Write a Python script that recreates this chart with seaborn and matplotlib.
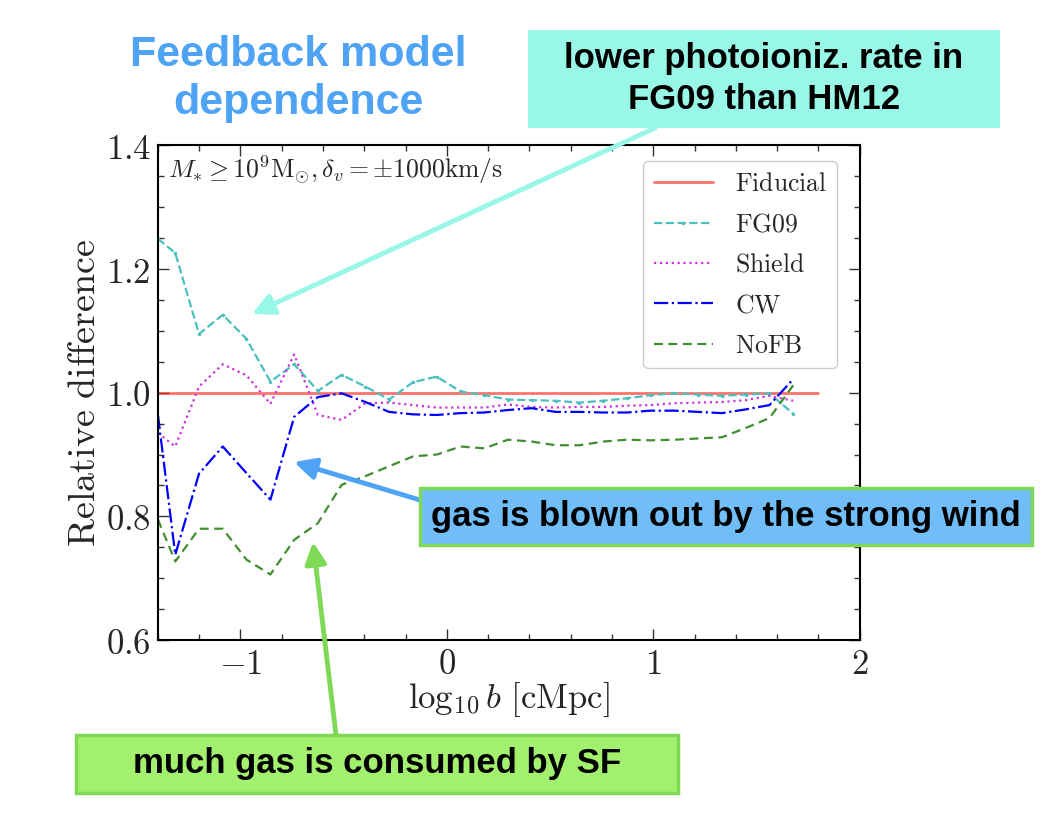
import matplotlib
matplotlib.use('Agg')
import matplotlib.pyplot as plt
import seaborn as sns
from matplotlib.patches import Rectangle, FancyArrowPatch
from matplotlib.ticker import MultipleLocator, FuncFormatter

# log10 impact parameter of the bins
log_b = [-1.400, -1.316, -1.201, -1.086, -0.971, -0.855, -0.740, -0.625, -0.510, -0.395,
         -0.280, -0.164, -0.049, 0.066, 0.181, 0.296, 0.411, 0.527, 0.642, 0.757,
         0.872, 0.987, 1.102, 1.218, 1.333, 1.448, 1.563, 1.678]

fg09 = [1.249, 1.226, 1.095, 1.126, 1.087, 1.018, 1.046, 1.003, 1.029, 1.010,
        0.989, 1.017, 1.026, 1.002, 0.996, 0.989, 0.988, 0.987, 0.984, 0.987,
        0.991, 0.996, 0.999, 0.997, 0.995, 0.997, 0.999, 0.966]
shield = [0.935, 0.913, 1.010, 1.046, 1.028, 0.982, 1.062, 0.964, 0.956, 0.983,
          0.984, 0.980, 0.976, 0.976, 0.976, 0.981, 0.977, 0.976, 0.977, 0.977,
          0.979, 0.980, 0.983, 0.984, 0.985, 0.988, 0.995, 0.987]
cw = [0.964, 0.738, 0.869, 0.913, 0.870, 0.827, 0.961, 0.993, 0.999, 0.985,
      0.969, 0.965, 0.964, 0.967, 0.968, 0.972, 0.975, 0.969, 0.969, 0.968,
      0.968, 0.971, 0.971, 0.969, 0.967, 0.973, 0.980, 1.022]
nofb = [0.795, 0.727, 0.780, 0.780, 0.730, 0.706, 0.762, 0.789, 0.851, 0.865,
        0.881, 0.897, 0.900, 0.913, 0.910, 0.924, 0.921, 0.915, 0.915, 0.921,
        0.924, 0.923, 0.924, 0.926, 0.928, 0.943, 0.959, 1.012]

fid_x = [-1.40, 1.80]
fid_y = [1.0, 1.0]

sns.set_theme(style='ticks')
plt.rcParams['mathtext.fontset'] = 'cm'
plt.rcParams['font.family'] = ['DejaVu Serif']

W, H = 1060, 818
fig = plt.figure(figsize=(W / 100, H / 100), dpi=100)
ax = fig.add_axes([0.149, 0.2176, 0.662, 0.6046])

sns.lineplot(x=fid_x, y=fid_y, ax=ax, color='#ff2a1a', alpha=0.65, lw=2,
             label=r'$\mathrm{Fiducial}$')
sns.lineplot(x=log_b, y=fg09, ax=ax, color='#4cbfbf', lw=1.6, linestyle='--',
             marker='.', markersize=5, markeredgewidth=0, label=r'$\mathrm{FG09}$')
sns.lineplot(x=log_b, y=shield, ax=ax, color='#cc33dd', lw=1.6, linestyle=':',
             label=r'$\mathrm{Shield}$')
sns.lineplot(x=log_b, y=cw, ax=ax, color='blue', lw=1.6, linestyle='-.',
             label=r'$\mathrm{CW}$')
sns.lineplot(x=log_b, y=nofb, ax=ax, color='#3f8f30', lw=1.6, dashes=False,
             linestyle=(0, (4, 2.5)), label=r'$\mathrm{NoFB}$')

ax.set_xlim(-1.4, 2.0)
ax.set_ylim(0.6, 1.4)
ax.xaxis.set_major_locator(MultipleLocator(1))
ax.xaxis.set_minor_locator(MultipleLocator(0.2))
ax.yaxis.set_major_locator(MultipleLocator(0.2))
ax.yaxis.set_minor_locator(MultipleLocator(0.05))
ax.xaxis.set_major_formatter(FuncFormatter(lambda v, p: r'$%d$' % round(v)))
ax.yaxis.set_major_formatter(FuncFormatter(lambda v, p: r'$%.1f$' % v))
ax.tick_params(which='both', direction='in', top=True, right=True,
               labelsize=25, width=1, color='#333333')
ax.tick_params(which='major', length=8, pad=5)
ax.tick_params(which='minor', length=4)
for s in ax.spines.values():
    s.set_color('black')
    s.set_linewidth(1.5)

ax.set_xlabel(r'$\log_{10}b\ [\mathrm{cMpc}]$', fontsize=25, labelpad=-1)
ax.set_ylabel(r'$\mathrm{Relative\ difference}$', fontsize=27.5, labelpad=2)
ax.text(0.015, 0.985, r'$M_{*}\geq 10^{9}\mathrm{M}_{\odot}, \delta_{v}=\pm 1000\mathrm{km/s}$',
        transform=ax.transAxes, fontsize=18.5, va='top', ha='left')

ax.legend(loc='upper right', fontsize=18.5, handlelength=2.3, labelspacing=0.6,
          handletextpad=0.85, frameon=True, fancybox=True, edgecolor='#cccccc',
          framealpha=1, borderaxespad=0.6, bbox_to_anchor=(0.99, 1.0))


def fp(px, py):
    return (px / W, 1 - py / H)


sans = ['Liberation Sans', 'DejaVu Sans']

# title
fig.text(*fp(298, 55), 'Feedback model', ha='center', va='center',
         fontsize=31, color='#4ea3f5', weight='bold', family=sans)
fig.text(*fp(298, 103), 'dependence', ha='center', va='center',
         fontsize=31, color='#4ea3f5', weight='bold', family=sans)

# arrows
arrows = [((655, 128), (252, 314), '#99f7e8'),
          ((420, 500), (294, 462), '#4ea3f5'),
          ((336, 735), (313, 542), '#7ed957')]
for tail, head, col in arrows:
    fig.add_artist(FancyArrowPatch(fp(*tail), fp(*head), transform=fig.transFigure,
                                   arrowstyle='-|>', mutation_scale=32, lw=3.5,
                                   color=col, shrinkA=0, shrinkB=0))

# boxes with comments
boxes = [((528, 30, 1000, 128), '#99f7e8', 'none', 'lower photoioniz. rate in\nFG09 than HM12'),
         ((420, 488, 1032, 545), '#70bdf7', '#7ed957', 'gas is blown out by the strong wind'),
         ((76, 735, 678, 793), '#a3f06e', '#7ed957', 'much gas is consumed by SF')]
for (x0, y0, x1, y1), fc, ec, txt in boxes:
    fig.add_artist(Rectangle(fp(x0, y1), (x1 - x0) / W, (y1 - y0) / H,
                             transform=fig.transFigure, facecolor=fc,
                             edgecolor=ec, lw=2.5))
    fig.text(*fp((x0 + x1) / 2, (y0 + y1) / 2), txt, ha='center', va='center',
             fontsize=25, weight='bold', family=sans, color='black', linespacing=1.3)

fig.savefig('out.png', dpi=100)
